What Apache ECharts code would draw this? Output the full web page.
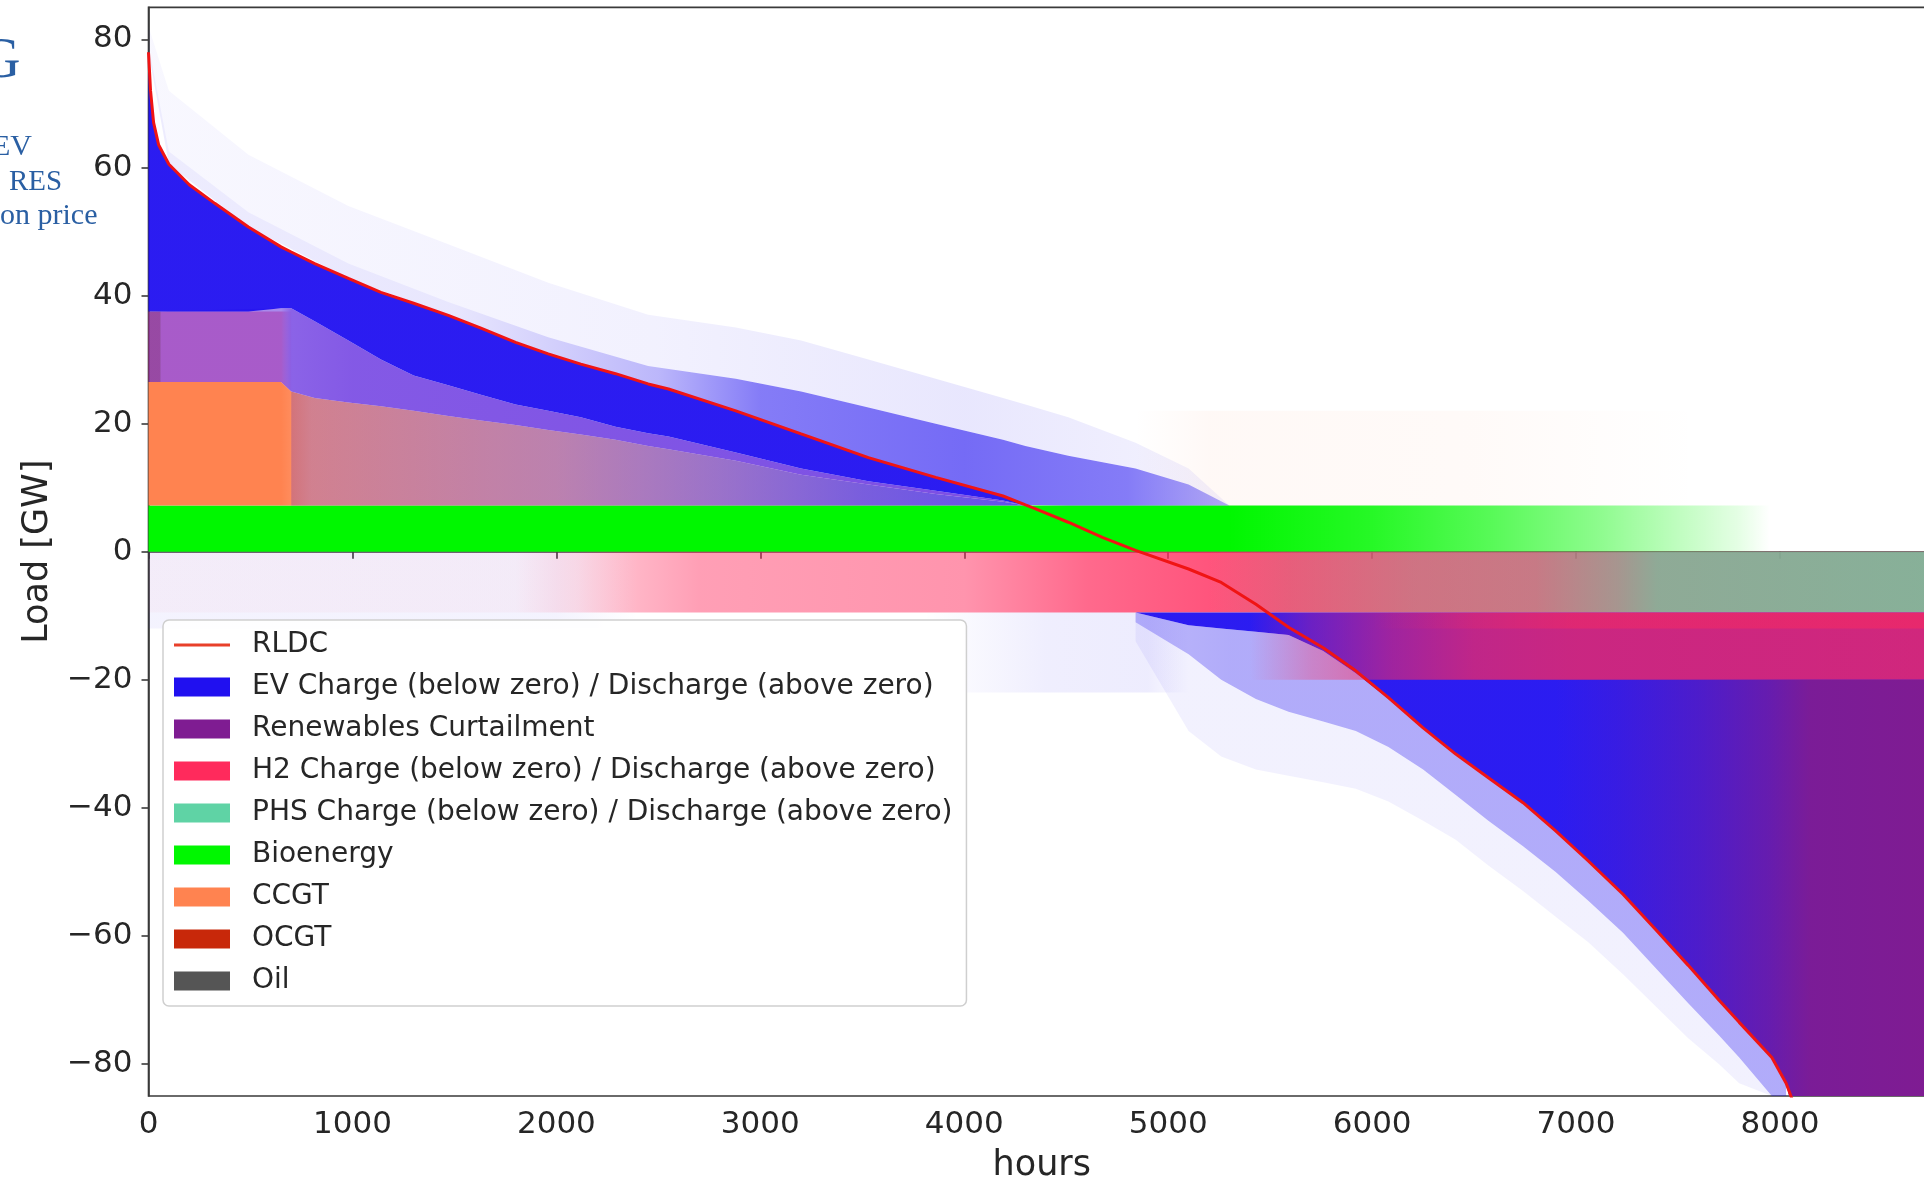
<!DOCTYPE html>
<html>
<head>
<meta charset="utf-8">
<script src="https://cdn.jsdelivr.net/npm/echarts@6/dist/echarts.min.js"></script>
<style>
html, body { margin: 0; padding: 0; background: #ffffff; }
#chart { width: 1924px; height: 1179px; }
</style>
</head>
<body>
<div id="chart"></div>
<script>
// ---------------------------------------------------------------
// Residual load duration curve: hours sorted by residual load (GW)
// ---------------------------------------------------------------
const RLDC_HOURS = [0, 10, 25, 50, 100, 200, 325, 490, 650, 700, 815, 980, 1140, 1300, 1470, 1630, 1800, 1960, 2120, 2290,
  2450, 2550, 2880, 3200, 3530, 3860, 4190, 4300, 4350, 4510, 4680, 4840, 5100, 5260, 5430, 5590, 5760, 5920, 6080, 6250,
  6410, 6570, 6740, 6900, 7060, 7230, 7390, 7550, 7700, 7800, 7960, 8030, 8100];
const RLDC_GW = [78, 72, 67, 63.5, 60.5, 57.3, 54.4, 50.7, 47.6, 46.8, 45.0, 42.7, 40.5, 38.8, 36.9, 34.9, 32.7, 30.9, 29.3, 27.8,
  26.2, 25.4, 22.0, 18.4, 14.7, 11.6, 8.7, 7.3, 6.7, 4.6, 2.2, 0.2, -2.7, -4.8, -8.2, -11.8, -15.0, -18.6, -22.8, -27.5,
  -31.6, -35.3, -39.2, -43.6, -48.3, -53.5, -59.0, -64.6, -70.0, -73.5, -79.0, -83.0, -89.0];

// Axis ticks
const X_TICKS = [0, 1000, 2000, 3000, 4000, 5000, 6000, 7000, 8000];
const Y_TICKS = [-80, -60, -40, -20, 0, 20, 40, 60, 80];

// Bioenergy (base of the generation stack)
const BIO_HOURS = [0, 7950];
const BIO_GW = [7.2, 7.2];

// CCGT block on top of bioenergy
const CCGT_HOURS = [0, 650, 700, 815, 980, 1140, 1300, 1470, 1630, 1800, 1960, 2120, 2290, 2450, 2550, 2880, 3200, 3530, 3860, 4190, 4300];
const CCGT_TOP = [26.5, 26.5, 25, 24, 23.3, 22.7, 22, 21.2, 20.5, 19.8, 19, 18.3, 17.5, 16.5, 16, 14.2, 12, 10.5, 9, 7.8, 7.2];
const CCGT_SPIKE_HOURS = [4840, 7600];
const CCGT_SPIKE_TOP = [22, 22];

// OCGT and H2 discharge in the peak hours
const OCGT_HOURS = [0, 60];
const OCGT_LOW = [26.5, 26.5];
const OCGT_TOP = [37.5, 37.5];
const H2_DIS_HOURS = [60, 650, 700];
const H2_DIS_LOW = [26.5, 26.5, 25];
const H2_DIS_TOP = [37.5, 37.5, 37.5];

// EV discharge (above zero)
const EV_MIX_TOP = [37.5, 38, 38, 36, 33, 30, 27.5, 26, 24.5, 23, 22, 21, 19.5, 18.5, 18, 15.5, 13, 11, 9.5, 8, 7.2]; // on CCGT_HOURS
const EV_DIS_HOURS = [0, 10, 25, 50, 100, 200, 325, 490, 650, 700, 815, 980, 1140, 1300, 1470, 1630, 1800, 1960, 2120, 2290,
  2450, 2550, 2880, 3200, 3530, 3860, 4190, 4300];
const EV_DIS_CORE_LOW = [37.5, 37.5, 37.5, 37.5, 37.5, 37.5, 37.5, 37.5, 38, 38, 36, 33, 30, 27.5, 26, 24.5, 23, 22, 21, 19.5,
  18.5, 18, 15.5, 13, 11, 9.5, 8, 7.2];
const EV_HAZE_HOURS = [0, 100, 490, 980, 1470, 1960, 2450, 2880, 3200, 3530, 3860, 4190, 4300, 4510, 4840, 5100, 5300];
const EV_HAZE_LOW = [78, 60.5, 50.7, 42.7, 36.9, 30.9, 26.2, 22.0, 18.4, 14.7, 11.6, 8.7, 7.3, 7.2, 7.2, 7.2, 7.2];
const EV_HAZE_MID = [79, 62.5, 53, 45, 39, 33.5, 29, 27, 25, 22.5, 20, 17.5, 16.5, 15, 13, 10.5, 7.2];
const EV_HAZE_TOP = [82, 72, 62, 54, 48, 42, 37, 35, 33, 30, 27, 24, 23, 21, 17, 13, 7.2];

// Storage charging (below zero)
const H2_CH_HOURS = [0, 8760];
const H2_CH_LOW = [-9.5, -9.5];
const H2_CH_DEEP_HOURS = [5400, 8760];
const H2_CH_DEEP_LOW = [-20, -20];
const H2_CH_DEEP_TOP = [-9.5, -9.5];
const H2_CH_EDGE_HOURS = [6000, 8760];
const H2_CH_EDGE_LOW = [-12, -12];
const PHS_CH_HOURS = [5200, 8760];
const PHS_CH_LOW = [-9.5, -9.5];

// EV charging (below zero)
const EV_CH_EARLY_HOURS = [0, 2400];
const EV_CH_EARLY_LOW = [-12, -12];
const EV_CH_MID_HOURS = [3800, 5100];
const EV_CH_MID_LOW = [-22, -22];
const EV_CH_MID_TOP = [-9.5, -9.5];
const EV_CH_HOURS = [4840, 5100, 5260, 5430, 5590, 5760, 5920, 6080, 6250, 6410, 6570, 6740, 6900, 7060, 7230, 7390, 7550, 7700, 7800,
  7960, 8030, 8045, 8760];
const EV_CH_LOW = [-9.5, -11.5, -12, -12.5, -13, -15.5, -19, -23, -27.5, -31.6, -35.3, -39.2, -43.6, -48.3, -53.5, -59, -64.6, -70, -73.5,
  -79, -83, -85, -85];
const EV_CH_TOP = -9.5;
const EV_FRINGE_HOURS = [4840, 5100, 5260, 5430, 5590, 5760, 5920, 6080, 6250, 6410, 6570, 6740, 6900, 7060, 7230, 7390, 7550, 7700, 7800,
  7960, 8030];
const EV_FRINGE_TOP = [-9.5, -11.5, -12, -12.5, -13, -15.5, -19, -23, -27.5, -31.6, -35.3, -39.2, -43.6, -48.3, -53.5, -59, -64.6, -70, -73.5,
  -79, -83];
const EV_FRINGE_LOW = [-11, -16, -20, -23, -25, -26.5, -28, -30.5, -34, -38, -42, -46, -50, -54.5, -59.5, -65, -70.5, -75.5, -79, -85, -85];
const EV_SPIKE_LOW = [-14, -28, -32, -34, -35, -36, -37, -39, -42, -45, -49, -53, -57, -61, -66, -71, -76, -80, -83, -85, -85];

// Renewables curtailment
const CURT_HOURS = [6900, 7060, 7230, 7390, 7550, 7700, 7800, 7960, 8030, 8045, 8760];
const CURT_LOW = [-43.6, -48.3, -53.5, -59, -64.6, -70, -73.5, -79, -83, -85, -85];
const CURT_TOP = -20;

// ---------------------------------------------------------------
const NAMES = {
  rldc: 'RLDC',
  ev: 'EV Charge (below zero) / Discharge (above zero)',
  curt: 'Renewables Curtailment',
  h2: 'H2 Charge (below zero) / Discharge (above zero)',
  phs: 'PHS Charge (below zero) / Discharge (above zero)',
  bio: 'Bioenergy',
  ccgt: 'CCGT',
  ocgt: 'OCGT',
  oil: 'Oil'
};
const RGB = {
  ev: [32, 16, 240],
  curt: [127, 28, 146],
  h2: [255, 42, 92],
  phs: [95, 211, 165],
  bio: [0, 247, 0],
  ccgt: [255, 131, 80],
  ocgt: [200, 40, 10],
  oil: [85, 85, 85]
};
// EV discharge seen through the thin gas-fired layers underneath
const EV_OVER_GAS = [110, 60, 225];

const rgba = (c, a) => 'rgba(' + c[0] + ',' + c[1] + ',' + c[2] + ',' + a + ')';
const hex = c => '#' + c.map(v => v.toString(16).padStart(2, '0')).join('');

function rldcAt(hours) {
  return hours.map(h => RLDC_GW[RLDC_HOURS.indexOf(h)]);
}

// A filled band between a lower and an upper curve. Each row is [hour, low, high];
// the whole band is drawn as one polygon through the axis coordinates.
function band(key, hours, low, high, alphaStops, tint) {
  const rows = hours.map((h, i) => [
    h,
    typeof low === 'number' ? low : low[i],
    typeof high === 'number' ? high : high[i]
  ]);
  const rgb = tint || RGB[key];
  const h0 = hours[0], h1 = hours[hours.length - 1];
  const fill = {
    type: 'linear', x: 0, y: 0, x2: 1, y2: 0,
    colorStops: alphaStops.map(([h, a]) => ({
      offset: Math.min(1, Math.max(0, (h - h0) / (h1 - h0))),
      color: rgba(rgb, a)
    }))
  };
  return {
    type: 'custom', name: NAMES[key], data: rows,
    encode: { x: 0, y: [1, 2] },
    itemStyle: { color: hex(RGB[key]) },
    clip: true, silent: true, animation: false, z: 2,
    renderItem: function (params, api) {
      if (params.dataIndexInside !== 0) return null;
      const n = params.dataInsideLength;
      const upper = [], lower = [];
      for (let i = 0; i < n; i++) {
        const h = api.value(0, i);
        upper.push(api.coord([h, api.value(2, i)]));
        lower.push(api.coord([h, api.value(1, i)]));
      }
      return {
        type: 'polygon',
        shape: { points: upper.concat(lower.reverse()) },
        style: { fill: fill, stroke: null }
      };
    }
  };
}

const series = [
  // generation stack above zero
  band('bio', BIO_HOURS, 0, BIO_GW, [[0, 1], [5300, 1], [6000, 0.85], [6600, 0.65], [7100, 0.45], [7500, 0.25], [7800, 0.1], [7950, 0]]),
  band('ccgt', CCGT_HOURS, 7.2, CCGT_TOP, [[0, 1], [650, 1], [800, 0.78], [2000, 0.62], [3000, 0.45], [3800, 0.3], [4300, 0.2]]),
  band('ccgt', CCGT_SPIKE_HOURS, 7.2, CCGT_SPIKE_TOP, [[4840, 0], [5200, 0.05], [6500, 0.04], [7600, 0]]),
  band('ocgt', OCGT_HOURS, OCGT_LOW, OCGT_TOP, [[0, 0.75], [60, 0.75]]),
  band('h2', H2_DIS_HOURS, H2_DIS_LOW, H2_DIS_TOP, [[60, 0.55], [650, 0.55], [700, 0.1]]),
  // EV discharge
  band('ev', CCGT_HOURS.slice(2), 7.2, CCGT_TOP.slice(2), [[700, 0.2], [2000, 0.3], [2800, 0.45], [3500, 0.6], [4300, 0.7]]),
  band('ev', CCGT_HOURS, CCGT_TOP, EV_MIX_TOP, [[0, 0.6], [650, 0.6], [700, 0.8], [1000, 0.85], [4300, 0.9]], EV_OVER_GAS),
  band('ev', EV_DIS_HOURS, EV_DIS_CORE_LOW, rldcAt(EV_DIS_HOURS), [[0, 0.95], [4300, 0.95]]),
  band('ev', EV_HAZE_HOURS, EV_HAZE_LOW, EV_HAZE_MID, [[0, 0.08], [1500, 0.1], [2500, 0.3], [3000, 0.55], [4000, 0.62], [4800, 0.55], [5300, 0.35]]),
  band('ev', EV_HAZE_HOURS, EV_HAZE_MID, EV_HAZE_TOP, [[0, 0.03], [2500, 0.06], [4000, 0.1], [5300, 0.05]]),
  // charging below zero
  band('ev', EV_CH_EARLY_HOURS, EV_CH_EARLY_LOW, 0, [[0, 0.05], [2000, 0.05], [2400, 0]]),
  band('h2', H2_CH_HOURS, H2_CH_LOW, 0, [[0, 0.03], [1800, 0.04], [2100, 0.15], [2400, 0.35], [2700, 0.45], [4000, 0.5], [4600, 0.7], [5200, 0.8], [5600, 0.85], [8760, 0.85]]),
  band('ev', EV_CH_MID_HOURS, EV_CH_MID_LOW, EV_CH_MID_TOP, [[3800, 0], [4400, 0.07], [4900, 0.08], [5100, 0]]),
  band('phs', PHS_CH_HOURS, PHS_CH_LOW, 0, [[5200, 0], [5600, 0.15], [6200, 0.3], [6800, 0.35], [7200, 0.55], [7400, 0.7], [8760, 0.75]]),
  band('ev', EV_FRINGE_HOURS, EV_SPIKE_LOW, EV_FRINGE_LOW, [[4840, 0.06], [8030, 0.06]]),
  band('ev', EV_FRINGE_HOURS, EV_FRINGE_LOW, EV_FRINGE_TOP, [[4840, 0.3], [5300, 0.35], [8030, 0.35]]),
  band('ev', EV_CH_HOURS, EV_CH_LOW, EV_CH_TOP, [[4840, 0.95], [8760, 0.95]]),
  band('h2', H2_CH_DEEP_HOURS, H2_CH_DEEP_LOW, H2_CH_DEEP_TOP, [[5400, 0], [5700, 0.3], [6100, 0.55], [6500, 0.7], [7000, 0.75], [8760, 0.78]]),
  band('h2', H2_CH_EDGE_HOURS, H2_CH_EDGE_LOW, -9.5, [[6000, 0], [7000, 0.4], [8760, 0.5]]),
  band('curt', CURT_HOURS, CURT_LOW, CURT_TOP, [[6900, 0], [7200, 0.15], [7600, 0.4], [7950, 0.7], [8150, 0.95], [8760, 1]]),
  {
    type: 'line', name: NAMES.rldc, data: RLDC_HOURS.map((h, i) => [h, RLDC_GW[i]]),
    symbol: 'none', showSymbol: false, color: '#f01414',
    lineStyle: { color: '#f01414', width: 3 }, z: 5, silent: true, animation: false
  },
  { type: 'line', name: NAMES.oil, data: [], color: hex(RGB.oil), symbol: 'none', silent: true }
];

const FONT = '"DejaVu Sans", "Noto Sans", sans-serif';
const INK = '#262626';
const AXIS = '#3a3a3a';
const fmt = v => (v < 0 ? '\u2212' + Math.abs(v) : String(v));

const legendKeys = ['rldc', 'ev', 'curt', 'h2', 'phs', 'bio', 'ccgt', 'ocgt', 'oil'];
const legendData = legendKeys.map(k => k === 'rldc'
  ? { name: NAMES.rldc, icon: 'path://M0,0L0.01,0L0,0.01Z M0,8L56,8L56,11L0,11Z M56,19L55.99,19L56,18.99Z',
      itemStyle: { color: '#e8402a', opacity: 1, borderWidth: 0 } }
  : { name: NAMES[k], icon: 'rect', itemStyle: { color: hex(RGB[k]), opacity: 1, borderWidth: 0 } });

const SLIDE_BLUE = '#2a5fa3';
const SERIF = '"Liberation Serif", "DejaVu Serif", serif';

const chart = echarts.init(document.getElementById('chart'), null, { renderer: 'canvas' });
chart.setOption({
  animation: false,
  backgroundColor: '#ffffff',
  grid: {
    left: 148.5, top: 7.4, right: -11, bottom: 83,
    containLabel: false, outerBoundsMode: 'none',
    show: true, borderColor: AXIS, borderWidth: 1.6, backgroundColor: 'transparent'
  },
  xAxis: {
    type: 'value', min: 0, max: 8760,
    name: 'hours', nameLocation: 'middle', nameGap: 52,
    nameTextStyle: { fontFamily: FONT, fontSize: 35, color: INK },
    axisLine: { show: true, lineStyle: { color: AXIS, width: 1.6 } },
    axisTick: { show: true, length: 7, lineStyle: { color: AXIS, width: 1.6 }, customValues: X_TICKS },
    axisLabel: { show: true, margin: 13, fontFamily: FONT, fontSize: 31, color: INK, customValues: X_TICKS, formatter: fmt },
    splitLine: { show: false }
  },
  yAxis: {
    type: 'value', min: -85, max: 85,
    name: 'Load [GW]', nameLocation: 'middle', nameGap: 93, nameRotate: 90,
    nameTextStyle: { fontFamily: FONT, fontSize: 35, color: INK },
    axisLine: { show: true, onZero: false, lineStyle: { color: AXIS, width: 1.6 } },
    axisTick: { show: true, length: 7, lineStyle: { color: AXIS, width: 1.6 }, customValues: Y_TICKS },
    axisLabel: { show: true, margin: 16, fontFamily: FONT, fontSize: 31, color: INK, customValues: Y_TICKS, formatter: fmt },
    splitLine: { show: false }
  },
  legend: {
    show: true, orient: 'vertical', left: 163, top: 620,
    data: legendData,
    itemWidth: 56, itemHeight: 19, itemGap: 14,
    padding: [11, 14, 11, 11],
    backgroundColor: 'rgba(255,255,255,0.85)', borderColor: '#cfcfcf', borderWidth: 1.5, borderRadius: 6,
    textStyle: { fontFamily: FONT, fontSize: 28, color: INK, padding: [0, 0, 0, 17] },
    selectedMode: false, z: 10
  },
  graphic: [
    { type: 'text', x: -20, y: 62, z: 20, style: { text: 'G', font: '56px ' + SERIF, fill: SLIDE_BLUE, align: 'left', verticalAlign: 'middle' } },
    { type: 'text', x: -8, y: 147, z: 20, style: { text: 'EV', font: '30px ' + SERIF, fill: SLIDE_BLUE, align: 'left', verticalAlign: 'middle' } },
    { type: 'text', x: 9, y: 182, z: 20, style: { text: 'RES', font: '29px ' + SERIF, fill: SLIDE_BLUE, align: 'left', verticalAlign: 'middle' } },
    { type: 'text', x: 0, y: 216, z: 20, style: { text: 'on price', font: '30px ' + SERIF, fill: SLIDE_BLUE, align: 'left', verticalAlign: 'middle' } }
  ],
  series: series
});
</script>
</body>
</html>
